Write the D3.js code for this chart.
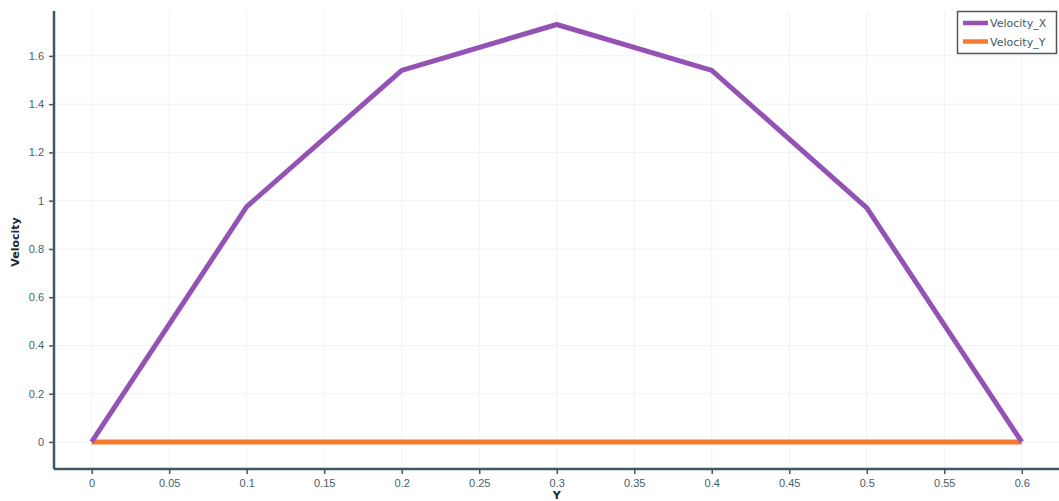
<!DOCTYPE html>
<html>
<head>
<meta charset="utf-8">
<script src="https://cdn.jsdelivr.net/npm/d3@7"></script>
<style>
  body { margin: 0; background: #fff; }
  svg { display: block; font-family: "DejaVu Sans", sans-serif; }
</style>
</head>
<body>
<div id="chart"></div>
<script>
// data
var posY = [0, 0.1, 0.2, 0.3, 0.4, 0.5, 0.6];
var velocityX = [0, 0.975, 1.54, 1.73, 1.54, 0.97, 0];
var velocityY = [0, 0, 0, 0, 0, 0, 0];
var seriesNames = ["Velocity_X", "Velocity_Y"];
var seriesColors = ["#9552b5", "#f57b2c"];
var xTicks = [0, 0.05, 0.1, 0.15, 0.2, 0.25, 0.3, 0.35, 0.4, 0.45, 0.5, 0.55, 0.6];
var yTicks = [0, 0.2, 0.4, 0.6, 0.8, 1, 1.2, 1.4, 1.6];

var width = 1059, height = 501;
var margin = { top: 11, right: 0, bottom: 32, left: 54 };

var svg = d3.select("#chart").append("svg")
  .attr("width", width)
  .attr("height", height);

// scales
var xScale = d3.scaleLinear()
  .domain([-0.0243, 0.624])
  .range([margin.left, width - margin.right]);

var yScale = d3.scaleLinear()
  .domain([-0.112, 1.786])
  .range([height - margin.bottom, margin.top]);

// grid
svg.append("g").selectAll("line.vg")
  .data(xTicks)
  .enter().append("line")
  .attr("x1", d => xScale(d)).attr("x2", d => xScale(d))
  .attr("y1", yScale.range()[0]).attr("y2", yScale.range()[1])
  .attr("stroke", "#eef3f6").attr("stroke-width", 1);

svg.append("g").selectAll("line.hg")
  .data(yTicks)
  .enter().append("line")
  .attr("x1", xScale.range()[0]).attr("x2", xScale.range()[1])
  .attr("y1", d => yScale(d)).attr("y2", d => yScale(d))
  .attr("stroke", "#eef3f6").attr("stroke-width", 1);

// lines
var rows = posY.map((p, i) => ({ p: p, vx: velocityX[i], vy: velocityY[i] }));

var line = key => d3.line()
  .x(d => xScale(d.p))
  .y(d => yScale(d[key]));

svg.append("path")
  .datum(rows)
  .attr("d", line("vy"))
  .attr("fill", "none")
  .attr("stroke", seriesColors[1])
  .attr("stroke-width", 5);

svg.append("path")
  .datum(rows)
  .attr("d", line("vx"))
  .attr("fill", "none")
  .attr("stroke", seriesColors[0])
  .attr("stroke-width", 5)
  .attr("stroke-linejoin", "round");

// axes
var axisColor = "#3d5866";

var xAxis = svg.append("g")
  .attr("transform", `translate(0,${height - margin.bottom})`)
  .call(d3.axisBottom(xScale).tickValues(xTicks).tickSize(5).tickPadding(5).tickFormat(d => String(d)));

var yAxis = svg.append("g")
  .attr("transform", `translate(${margin.left},0)`)
  .call(d3.axisLeft(yScale).tickValues(yTicks).tickSize(5).tickPadding(5).tickFormat(d => String(d)));

[xAxis, yAxis].forEach(function(a) {
  a.select(".domain").attr("stroke", axisColor).attr("stroke-width", 2.5);
  a.selectAll(".tick line").attr("stroke", axisColor).attr("stroke-width", 1.5);
  a.selectAll(".tick text").attr("fill", "#46606c").style("font-size", "11px");
});

// remove outer tick stubs on domain
xAxis.select(".domain").attr("d", `M${xScale.range()[0]},0H${xScale.range()[1]}`);
yAxis.select(".domain").attr("d", `M0,${yScale.range()[0]}V${yScale.range()[1]}`);

// axis titles
svg.append("text")
  .attr("x", xScale(0.3))
  .attr("y", 499)
  .attr("text-anchor", "middle")
  .style("font-size", "11px")
  .style("font-weight", "bold")
  .attr("fill", "#1e2a30")
  .text("Y");

svg.append("text")
  .attr("transform", "translate(19,242) rotate(-90)")
  .attr("text-anchor", "middle")
  .style("font-size", "11px")
  .style("font-weight", "bold")
  .attr("fill", "#1e2a30")
  .text("Velocity");

// legend
var legend = svg.append("g");
legend.append("rect")
  .attr("x", 957.5).attr("y", 11.5)
  .attr("width", 99).attr("height", 42)
  .attr("fill", "#fff")
  .attr("stroke", "#555").attr("stroke-width", 1.5);

seriesNames.forEach(function(name, i) {
  var ly = 23 + i * 18.5;
  legend.append("line")
    .attr("x1", 963).attr("x2", 988)
    .attr("y1", ly).attr("y2", ly)
    .attr("stroke", seriesColors[i]).attr("stroke-width", 4.5);
  legend.append("text")
    .attr("x", 990).attr("y", ly + 4)
    .style("font-size", "11px")
    .attr("fill", "#3d5866")
    .text(name);
});
</script>
</body>
</html>
